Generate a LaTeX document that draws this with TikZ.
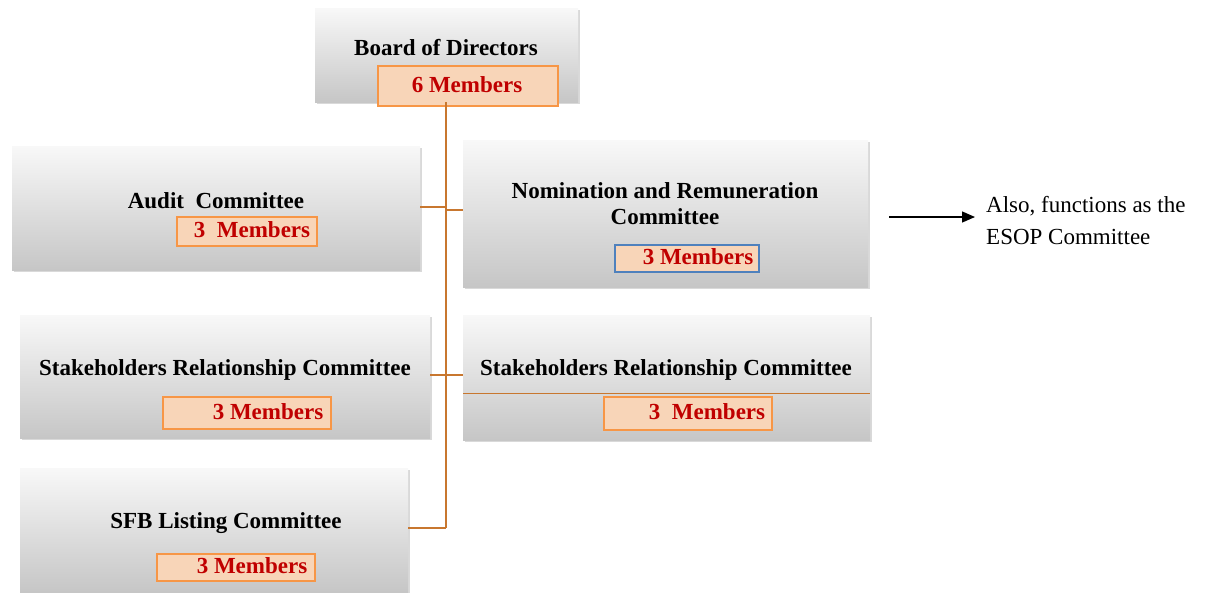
\documentclass[tikz,border=0pt]{standalone}
\usepackage{fontspec}
\setmainfont{Liberation Serif}
\usetikzlibrary{shadows,arrows.meta}
\definecolor{boxtop}{HTML}{F8F8F8}
\definecolor{boxbot}{HTML}{C6C6C6}
\definecolor{memfill}{HTML}{F8D5B8}
\definecolor{memdraw}{HTML}{F79646}
\definecolor{memblue}{HTML}{4F81BD}
\definecolor{memtext}{HTML}{C00000}
\definecolor{conn}{HTML}{C8772F}
\tikzset{
  unitbox/.style={anchor=north west, inner sep=0pt, top color=boxtop, bottom color=boxbot, draw=none,
    drop shadow={opacity=0.3, shadow xshift=1.5pt, shadow yshift=-2pt}},
  membox/.style={anchor=north west, inner sep=0pt, fill=memfill, draw=memdraw, line width=1.6pt},
  headtext/.style={font=\fontsize{23}{26}\selectfont\bfseries, align=center, inner sep=0pt},
  memtxt/.style={font=\fontsize{23}{26}\selectfont\bfseries, text=memtext, inner sep=0pt},
  connline/.style={draw=conn, line width=1.3pt},
}
\begin{document}
\begin{tikzpicture}[x=1pt,y=-1pt]
\useasboundingbox (0,0) rectangle (1205,592);
% boxes
\node[unitbox, minimum width=263pt, minimum height=94pt] (board) at (315,8) {};
\node[unitbox, minimum width=408pt, minimum height=124pt] (audit) at (12,146) {};
\node[unitbox, minimum width=405pt, minimum height=147pt] (nrc) at (463,140) {};
\node[unitbox, minimum width=410pt, minimum height=123pt] (srcl) at (20,315) {};
\node[unitbox, minimum width=407pt, minimum height=125pt] (srcr) at (463,315) {};
\node[unitbox, minimum width=388pt, minimum height=124pt] (sfb) at (20,468) {};
% divider line in right stakeholders box
\draw[conn, line width=0.6pt] (srcr.west |- 0,393) -- (srcr.east |- 0,393);
% member boxes
\node[membox, minimum width=180pt, minimum height=40pt] (mboard) at (377,65) {};
\node[membox, minimum width=140pt, minimum height=29pt] (maudit) at (176,216) {};
\node[membox, draw=memblue, minimum width=144pt, minimum height=27pt] (mnrc) at (614,244) {};
\node[membox, minimum width=168pt, minimum height=32pt] (msrcl) at (162,396) {};
\node[membox, minimum width=168pt, minimum height=33pt] (msrcr) at (603,396) {};
\node[membox, minimum width=158pt, minimum height=27pt] (msfb) at (156,553) {};
% texts
\node[headtext] (tboard) at (446,48) {Board of Directors};
\node[memtxt] (tmboard) at (467,85) {6 Members};
\node[headtext] (taudit) at (216,201) {Audit\ \ Committee};
\node[memtxt] (tmaudit) at (252,230) {3\ \ Members};
\node[headtext] (tnrc) at (665,204) {Nomination and Remuneration\\Committee};
\node[memtxt] (tmnrc) at (698,257) {3 Members};
\node[headtext] (tsrcl) at (225,370) {Stakeholders Relationship Committee};
\node[memtxt] (tmsrcl) at (268,412) {3 Members};
\node[headtext] (tsrcr) at (666,370) {Stakeholders Relationship Committee};
\node[memtxt] (tmsrcr) at (707,412) {3\ \ Members};
\node[headtext] (tsfb) at (226,523) {SFB Listing Committee};
\node[memtxt] (tmsfb) at (252,566) {3 Members};
% connectors
\coordinate (trunktop) at (446,102);
\coordinate (trunkbot) at (446,528);
\draw[connline] (trunktop) -- (trunkbot);
\draw[connline] (audit.east |- 0,207) -- (446,207) -- (446,210) -- (nrc.west |- 0,210);
\draw[connline] (srcl.east |- 0,375) -- (srcr.west |- 0,375);
\draw[connline] (sfb.east |- 0,528) -- (trunkbot);
% note
\coordinate (arrstart) at (889,217);
\coordinate (arrend) at (975,217);
\node[font=\fontsize{23}{32}\selectfont, align=left, anchor=north west, inner sep=0pt] (note) at (986,196) {Also, functions as the\\ESOP Committee};
\draw[line width=1.3pt, -{Triangle[length=13pt,width=11pt]}] (arrstart) -- (arrend);
\end{tikzpicture}
\end{document}
